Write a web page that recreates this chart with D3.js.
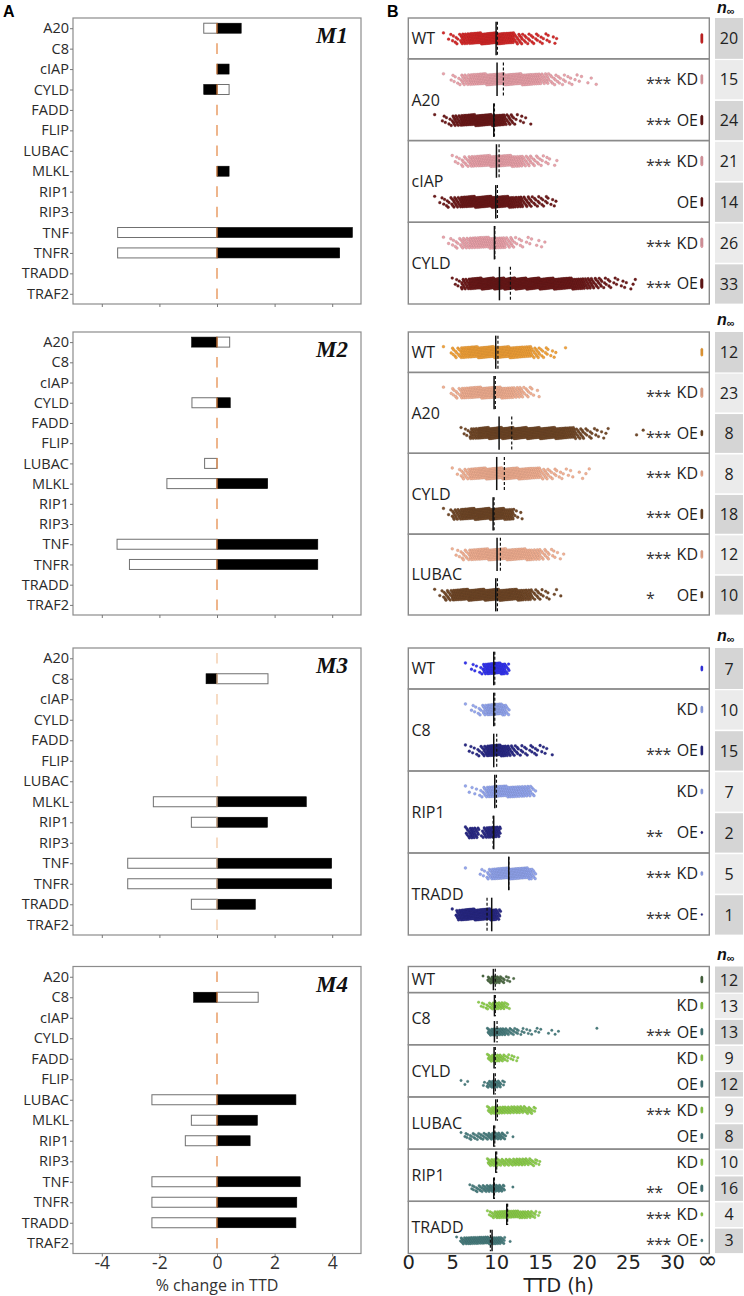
<!DOCTYPE html>
<html><head><meta charset="utf-8">
<script src="https://cdn.jsdelivr.net/npm/d3@7"></script>
<style>body{margin:0;background:#fff}svg{display:block}</style>
</head><body><svg id="c" width="744" height="1296"></svg>
<script>
// ---------------- Panel A data ----------------
const genes = ["A20","C8","cIAP","CYLD","FADD","FLIP","LUBAC","MLKL","RIP1","RIP3","TNF","TNFR","TRADD","TRAF2"];
const models = ["M1","M2","M3","M4"];
const aTicks = [-4,-2,0,2,4];
const m1Open  = [-0.46,null,null,0.42,null,null,null,null,null,null,-3.45,-3.45,null,null];
const m1Solid = [0.84,null,0.42,-0.46,null,null,null,0.42,null,null,4.7,4.26,null,null];
const m2Open  = [0.44,null,null,-0.87,null,null,-0.43,-1.74,null,null,-3.47,-3.04,null,null];
const m2Solid = [-0.88,null,null,0.46,null,null,null,1.76,null,null,3.5,3.5,null,null];
const m3Open  = [null,1.77,null,null,null,null,null,-2.21,-0.89,null,-3.1,-3.1,-0.89,null];
const m3Solid = [null,-0.38,null,null,null,null,null,3.1,1.75,null,3.98,3.98,1.33,null];
const m4Open  = [null,1.43,null,null,null,null,-2.26,-0.89,-1.1,null,-2.26,-2.26,-2.26,null];
const m4Solid = [null,-0.81,null,null,null,null,2.74,1.4,1.15,null,2.89,2.77,2.74,null];

// ---------------- Panel B data ----------------
const bTicks = [0,5,10,15,20,25,30];
const infPos = 33.4, infLabelPos = 34;

const b1Groups = ["WT","A20","cIAP","CYLD"];
const b1Sig    = ["","***","***","***","","***","***"];
const b1NInf   = [20,15,24,21,14,26,33];
const b1Median = [9.99,10.1,9.72,10.03,9.95,9.8,10.37];
const b1Mean   = [10.14,10.82,9.8,10.33,10.14,9.84,11.62];
const b1Start  = [4,4,3,5,3,4,5];
const b1Counts = [
  [3,8,25,40,50,55,50,35,15,10,8,6,4],
  [2,6,18,30,40,45,45,45,42,38,30,18,10,7,5,3,2,1],
  [2,6,20,35,45,50,50,40,15,5,3],
  [5,12,25,35,40,40,35,25,15,10,6,3],
  [3,8,18,35,45,50,50,45,35,25,15,10,8,4],
  [3,8,18,25,30,30,28,15,6,4,3,2],
  [5,20,45,60,70,75,75,70,65,60,55,50,45,40,30,20,14,8,5,4,3]
];
const b1Colors = ["#d42a2a","#eba3ab","#6e1c1c"];

const b2Groups = ["WT","A20","CYLD","LUBAC"];
const b2Sig    = ["","***","***","***","***","***","*"];
const b2NInf   = [12,23,8,8,18,12,10];
const b2Median = [9.95,9.76,10.33,10.06,9.65,10.1,9.95];
const b2Mean   = [10.2,9.9,11.77,10.93,9.76,10.48,10.14];
const b2Start  = [4,4,6,5,4,5,3];
const b2Counts = [
  [2,12,35,45,50,52,50,45,40,30,15,8,4,1],
  [2,10,28,38,42,42,38,30,20,10,4],
  [5,25,50,60,65,65,62,60,58,55,50,45,30,15,8,5,3,0,0,1,1],
  [3,15,35,45,50,50,48,45,40,30,15,8,5,3,2,2],
  [3,20,40,50,55,55,50,30,5],
  [4,12,30,40,45,45,42,38,32,22,12,6,2],
  [3,15,35,45,50,52,52,50,45,38,25,12,6,3,1]
];
const b2Colors = ["#f2a23a","#f3b193","#734a2a"];

const b3Groups = ["WT","C8","RIP1","TRADD"];
const b3Sig    = ["","","***","","**","***","***"];
const b3NInf   = [7,10,15,7,2,5,1];
const b3Median = [9.72,9.72,9.72,9.84,9.72,11.43,9.49];
const b3Mean   = [9.84,9.84,10.06,10.03,9.65,11.43,8.96];
const b3Start  = [6.5,6.5,6.5,6.5,6.5,6.5,5];
const b3Counts = [
  [1,2,2,3,12,22,24,24,20,8],
  [1,2,3,4,10,20,22,22,18,7],
  [2,2,3,5,10,20,24,24,18,12,8,6,4,4,3,4,3,2,2,1],
  [2,1,2,3,8,15,18,18,16,15,14,14,12,12,10,5],
  [8,14,10,3,10,16,16,12],
  [1,0,0,2,3,8,16,20,22,22,22,22,20,20,16,8],
  [2,12,22,26,26,26,26,26,26,24,10]
];
const b3Colors = ["#3535f0","#93a6ef","#2b2b86"];

const b4Groups = ["WT","C8","CYLD","LUBAC","RIP1","TRADD"];
const b4Sig    = ["","","***","","","***","","","**","***","***"];
const b4NInf   = [12,13,13,9,12,9,8,10,16,4,3];
const b4Median = [9.68,9.8,9.8,9.76,9.72,9.95,9.72,9.95,9.72,11.2,9.53];
const b4Mean   = [9.9,9.9,10.1,9.9,9.9,10.14,9.84,10.06,9.8,11.3,9.34];
const b4Start  = [8.5,8,9,9,6,9,6,9,7,9,5.5];
const b4Counts = [
  [1,8,12,10,6,3,2],
  [3,4,6,10,12,10,5],
  [10,14,14,12,8,6,5,3,3,2,2,2,1,1,1,1,1,0,0,0,0,0,0,0,1],
  [8,12,12,8,5,3,3],
  [2,1,0,0,0,3,8,12,10,4],
  [8,12,12,12,10,10,10,10,8,8,5],
  [2,4,5,5,6,6,8,10,10,8,2,1],
  [10,10,8,8,8,8,10,10,10,8,6,4],
  [4,5,7,8,10,10,10,8,0,1],
  [4,8,14,16,16,15,15,14,12,10,6,3],
  [2,10,14,15,15,15,15,15,15,14,8,0,1]
];
const b4Colors = ["#4e6b45","#8fd24e","#4b7f80"];

// ---------------- layout ----------------
const blockTops = [18, 332, 648, 966.5];
const blockBottoms = [304, 615, 935, 1253.5];

const svg = d3.select("#c");
svg.append("rect").attr("width",744).attr("height",1296).attr("fill","#fff");

const xA = d3.scaleLinear().domain([-5,5]).range([73,361]);
const xB = d3.scaleLinear().domain([0,34.25]).range([408.3,709.3]);

const openSets = [m1Open,m2Open,m3Open,m4Open];
const solidSets = [m1Solid,m2Solid,m3Solid,m4Solid];

models.forEach((m,i)=>{
  const top = blockTops[i], bot = blockBottoms[i];
  const y = d3.scalePoint().domain(genes).range([top,bot]).padding(0.5);
  const g = svg.append("g");
  const rows = genes.map((gn,j)=>({gene:gn, open:openSets[i][j], solid:solidSets[i][j]}));
  g.selectAll("rect.open").data(rows.filter(d=>d.open!=null)).join("rect")
    .attr("x",d=>xA(Math.min(0,d.open))).attr("width",d=>Math.abs(xA(d.open)-xA(0)))
    .attr("y",d=>y(d.gene)-5).attr("height",10)
    .attr("fill","#fff").attr("stroke","#707070").attr("stroke-width",1);
  g.selectAll("rect.solid").data(rows.filter(d=>d.solid!=null)).join("rect")
    .attr("x",d=>xA(Math.min(0,d.solid))).attr("width",d=>Math.abs(xA(d.solid)-xA(0)))
    .attr("y",d=>y(d.gene)-5).attr("height",10)
    .attr("fill","#000").attr("stroke","#000").attr("stroke-width",0.6);
  g.selectAll("line.zero").data(genes).join("line")
    .attr("x1",xA(0)).attr("x2",xA(0))
    .attr("y1",d=>y(d)-5.3).attr("y2",d=>y(d)+5.3)
    .attr("stroke", i===2 ? "#f1c39c" : "#e3843f").attr("stroke-width",1.2);
  g.append("rect").attr("x",xA(-5)).attr("y",top)
    .attr("width",xA(5)-xA(-5)).attr("height",bot-top)
    .attr("fill","none").attr("stroke","#8c8c8c").attr("stroke-width",1.2);
  const ya = g.append("g").attr("transform",`translate(${xA(-5)},0)`)
    .call(d3.axisLeft(y).tickSize(3).tickPadding(1));
  ya.select(".domain").remove();
  ya.selectAll("line").attr("stroke","#777");
  ya.selectAll("text").attr("font-family","Open Sans").attr("font-size",14.5).attr("fill","#2a2a2a");
  const xa = g.append("g").attr("transform",`translate(0,${bot})`)
    .call(d3.axisBottom(xA).tickValues(aTicks).tickSize(3).tickPadding(0)
      .tickFormat(i===3 ? d=>String(d) : ()=>""));
  xa.select(".domain").remove();
  xa.selectAll("line").attr("stroke","#777");
  xa.selectAll("text").attr("font-family","Open Sans").attr("font-size",17.5).attr("fill","#333");
  g.append("text").attr("x",348).attr("y",top+25).attr("text-anchor","end")
    .attr("font-family","Liberation Serif").attr("font-weight","bold").attr("font-style","italic")
    .attr("font-size",23).attr("fill","#111").text(m);
});
svg.append("text").attr("x",xA(0)).attr("y",1290.5).attr("text-anchor","middle")
  .attr("font-family","Open Sans").attr("font-size",16).attr("fill","#333").text("% change in TTD");

// panel letters
svg.append("text").attr("x",3).attr("y",16.7).attr("font-family","Liberation Sans").attr("font-weight","bold").attr("font-size",16).text("A");
svg.append("text").attr("x",387).attr("y",16.7).attr("font-family","Liberation Sans").attr("font-weight","bold").attr("font-size",16).text("B");

// ---------------- Panel B ----------------
const blocks = [
  {groups:b1Groups,sig:b1Sig,ninf:b1NInf,median:b1Median,mean:b1Mean,start:b1Start,counts:b1Counts,colors:b1Colors,bin:1,jit:11,r:1.4},
  {groups:b2Groups,sig:b2Sig,ninf:b2NInf,median:b2Median,mean:b2Mean,start:b2Start,counts:b2Counts,colors:b2Colors,bin:1,jit:11,r:1.4},
  {groups:b3Groups,sig:b3Sig,ninf:b3NInf,median:b3Median,mean:b3Mean,start:b3Start,counts:b3Counts,colors:b3Colors,bin:0.5,jit:11,r:1.4},
  {groups:b4Groups,sig:b4Sig,ninf:b4NInf,median:b4Median,mean:b4Mean,start:b4Start,counts:b4Counts,colors:b4Colors,bin:0.5,jit:7,r:1.25}
];

blocks.forEach((b,bi)=>{
  const top = blockTops[bi], bot = blockBottoms[bi];
  const rows = ["WT", ...b.groups.slice(1).flatMap(gn=>[gn+" KD", gn+" OE"])];
  const y = d3.scaleBand().domain(rows).range([top,bot]);
  const bw = y.bandwidth();
  const g = svg.append("g");
  const kindOf = r => r==="WT" ? 0 : (r.endsWith("KD") ? 1 : 2);

  // n-infinity cells
  rows.forEach((r,ri)=>{
    const k = kindOf(r);
    g.append("rect").attr("x",715).attr("y",y(r)+(k===0?0:1.2)).attr("width",28)
      .attr("height",bw-(k===0?0:1.6)).attr("fill", k===1 ? "#ebebeb" : "#d5d5d5");
    g.append("text").attr("x",729).attr("y",y(r)+bw/2+6).attr("text-anchor","middle")
      .attr("font-family","Open Sans").attr("font-size",16).attr("fill","#222").text(b.ninf[ri]);
  });
  // header n-inf
  const h = g.append("text").attr("x",717).attr("y",Math.max(top-7,13))
    .attr("font-family","Liberation Sans").attr("font-weight","bold").attr("fill","#111");
  h.append("tspan").attr("font-style","italic").attr("font-size",16).text("n");
  h.append("tspan").attr("font-size",11).attr("dy",2).text("\u221E");

  // group boxes
  b.groups.forEach((gn,gi)=>{
    const r0 = gi===0 ? "WT" : gn+" KD";
    const r1 = gi===0 ? "WT" : gn+" OE";
    const y0 = y(r0), y1 = y(r1)+bw;
    g.append("rect").attr("x",xB(0)).attr("y",y0).attr("width",xB(34.25)-xB(0)).attr("height",y1-y0)
      .attr("fill","none").attr("stroke","#8a8a8a").attr("stroke-width",1.4);
    g.append("text").attr("x",411.5).attr("y",(y0+y1)/2+5.8)
      .attr("font-family","Open Sans").attr("font-size",16).attr("fill","#1e1e1e").text(gn);
  });

  // dots
  rows.forEach((r,ri)=>{
    const cy = y(r)+bw/2;
    const col = b.colors[kindOf(r)];
    const stroke = d3.color(col).darker(0.8).formatHex();
    const pts = [];
    let k = 0;
    b.counts[ri].forEach((c,j)=>{
      for(let i=0;i<c;i++){
        const u = (k*0.7548777)%1;
        const v = ((k*0.5698403)%1)-0.5;
        pts.push({t: b.start[ri] + (j + (i+u)/c)*b.bin, dy: v*b.jit});
        k++;
      }
    });
    g.append("g").selectAll("circle").data(pts).join("circle")
      .attr("cx",d=>xB(d.t)).attr("cy",d=>cy+d.dy).attr("r",b.r)
      .attr("fill",col).attr("stroke",stroke).attr("stroke-width",0.3);
    // infinity stack
    const n = b.ninf[ri];
    const spread = Math.min(b.jit*0.72, (n-1)*0.55);
    const inf = d3.range(n).map(i=> n===1 ? 0 : -spread/2 + i*spread/(n-1));
    g.append("g").selectAll("circle").data(inf).join("circle")
      .attr("cx",xB(infPos)).attr("cy",d=>cy+d).attr("r",1.0)
      .attr("fill",col).attr("stroke",stroke).attr("stroke-width",0.3);
    // median & mean
    const half = bw*0.41;
    g.append("line").attr("x1",xB(b.median[ri])).attr("x2",xB(b.median[ri]))
      .attr("y1",cy-half).attr("y2",cy+half).attr("stroke","#111").attr("stroke-width",1.5);
    g.append("line").attr("x1",xB(b.mean[ri])).attr("x2",xB(b.mean[ri]))
      .attr("y1",cy-half).attr("y2",cy+half).attr("stroke","#111").attr("stroke-width",1.2)
      .attr("stroke-dasharray","3,2");
    // KD / OE label and significance
    if (r!=="WT"){
      g.append("text").attr("x",698).attr("y",cy+5.8).attr("text-anchor","end")
        .attr("font-family","Open Sans").attr("font-size",16).attr("fill","#1e1e1e").text(r.endsWith("KD")?"KD":"OE");
      if (b.sig[ri]) g.append("text").attr("x",646).attr("y",cy+9.5)
        .attr("font-family","Open Sans").attr("font-size",16).attr("letter-spacing",-0.6)
        .attr("fill","#333").text(b.sig[ri]);
    }
  });

  if (bi===3){
    const xa = g.append("g").attr("transform",`translate(0,${bot})`)
      .call(d3.axisBottom(xB).tickValues([...bTicks, infLabelPos]).tickSize(0).tickPadding(2)
        .tickFormat(d=> d===infLabelPos ? "\u221E" : String(d)));
    xa.select(".domain").remove();
    xa.selectAll("text").attr("font-family","DejaVu Sans").attr("font-size",19.5).attr("fill","#222");
    xa.selectAll("text").filter(d=>d===infLabelPos).attr("font-size",24).attr("dy","0.5em");
    g.append("text").attr("x",(xB(0)+xB(34.25))/2).attr("y",1292).attr("text-anchor","middle")
      .attr("font-family","DejaVu Sans").attr("font-size",19).attr("fill","#222").text("TTD (h)");
  }
});
</script></body></html>
